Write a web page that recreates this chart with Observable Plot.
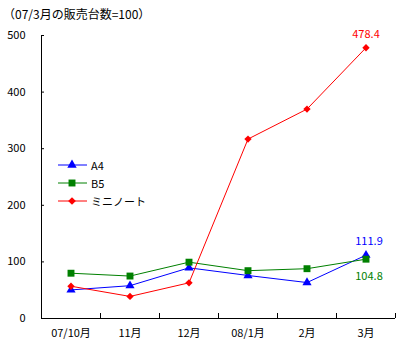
<!DOCTYPE html>
<html><head><meta charset="utf-8">
<script src="https://cdn.jsdelivr.net/npm/d3@7"></script>
<script src="https://cdn.jsdelivr.net/npm/@observablehq/plot@0.6"></script>
<style>
body{margin:0;background:#fff;font-family:'Noto Sans CJK JP',sans-serif;}
#wrap{position:relative;width:400px;height:352px;}
#title{position:absolute;left:3px;top:5px;font-size:12px;color:#000;white-space:nowrap;}
#legend{position:absolute;left:57px;top:156px;font-size:11px;}
#legend div{height:18px;display:flex;align-items:center;}
</style></head>
<body><div id="wrap"><div id="title">（07/3月の販売台数=100）</div><div id="legend"></div></div>
<script>
const months = ["07/10月","11月","12月","08/1月","2月","3月"];
const a4   = [50.5, 58, 89.5, 76, 63.5, 111.9];
const b5   = [80, 75, 99.5, 84.5, 88, 104.8];
const mini = [57, 39, 63, 317, 370, 478.4];
const yTicks = [0,100,200,300,400,500];
const seriesNames = ["A4","B5","ミニノート"];
const seriesColors = ["#0000ff","#008000","#ff0000"];
const seriesSymbols = ["triangle","square","diamond2"];
const seriesValues = [a4, b5, mini];

const data = [];
seriesValues.forEach((vals, s) => vals.forEach((v, i) => data.push({s, name: seriesNames[s], i, v})));
const boundaries = months.map((_, i) => i + 0.5);
const last = data.filter(d => d.i === months.length - 1);

const marks = [
  Plot.ruleY(yTicks, {insetRight: 351, stroke: "#000"}),
  Plot.ruleX(boundaries, {insetTop: 278, stroke: "#000"}),
  Plot.ruleX([-0.5], {stroke: "#000"}),
  Plot.ruleY([0], {stroke: "#000"})
];
seriesNames.forEach((n, s) => {
  const d = data.filter(e => e.s === s);
  marks.push(Plot.line(d, {x: "i", y: "v", stroke: seriesColors[s], strokeWidth: 1}));
});
seriesNames.forEach((n, s) => {
  const d = data.filter(e => e.s === s);
  marks.push(Plot.dot(d, {x: "i", y: "v", fill: seriesColors[s], stroke: "none", symbol: () => seriesSymbols[s], r: s === 0 ? 3.4 : s === 1 ? 3.9 : 3.3}));
});
marks.push(Plot.text(last.filter(d => d.s === 2), {x: "i", y: "v", text: d => d.v.toFixed(1), fill: seriesColors[2], dy: -13, fontSize: 11}));
marks.push(Plot.text(last.filter(d => d.s === 0), {x: "i", y: "v", text: d => d.v.toFixed(1), fill: seriesColors[0], dy: -14, dx: 3, fontSize: 11}));
marks.push(Plot.text(last.filter(d => d.s === 1), {x: "i", y: "v", text: d => d.v.toFixed(1), fill: seriesColors[1], dy: 17, dx: 3, fontSize: 11}));

const chart = Plot.plot({
  width: 400, height: 352,
  marginLeft: 41, marginRight: 5, marginTop: 35, marginBottom: 34,
  style: {fontFamily: "'Noto Sans CJK JP', sans-serif", fontSize: "11px", background: "transparent", color: "#000"},
  x: {type: "linear", domain: [-0.5, months.length - 0.5], ticks: d3.range(months.length), tickFormat: i => months[i], tickSize: 0, tickPadding: 11, label: null},
  y: {domain: [0, 500], ticks: yTicks, tickSize: 0, tickPadding: 16, label: null},
  marks
});
document.getElementById("wrap").prepend(chart);
chart.style.position = "absolute"; chart.style.left = "0"; chart.style.top = "0";

const leg = d3.select("#legend");
seriesNames.forEach((n, s) => {
  const row = leg.append("div");
  const svg = row.append("svg").attr("width", 32).attr("height", 12);
  svg.append("line").attr("x1", 1).attr("x2", 30).attr("y1", 6).attr("y2", 6).attr("stroke", seriesColors[s]);
  const sym = [d3.symbolTriangle, d3.symbolSquare, d3.symbolDiamond2][s];
  svg.append("path").attr("transform", "translate(15,6)").attr("d", d3.symbol(sym, s === 1 ? 48 : 38)()).attr("fill", seriesColors[s]);
  row.append("span").style("margin-left", "2px").text(n);
});
</script></body></html>
